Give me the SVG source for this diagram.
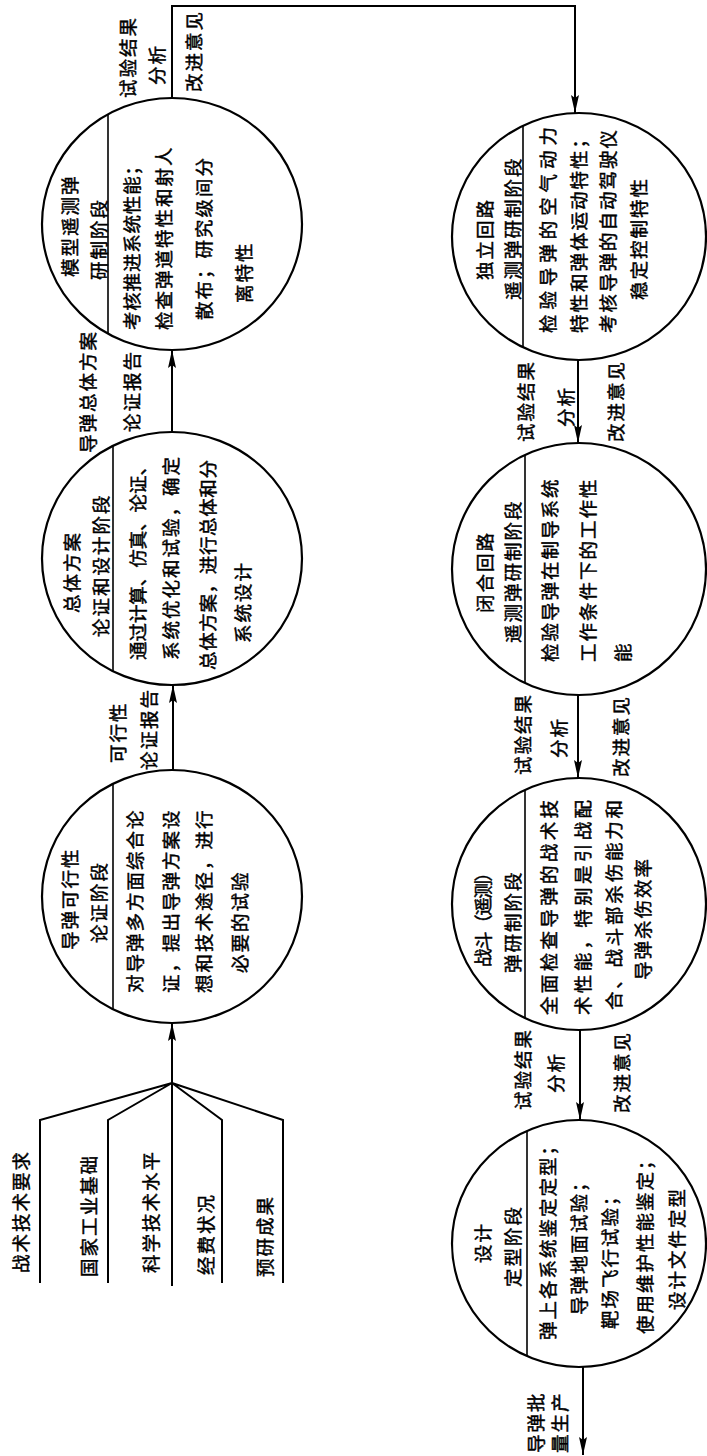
<svg xmlns="http://www.w3.org/2000/svg" width="707" height="1456" viewBox="0 0 707 1456">
<style>
.bg{fill:#ffffff}
.c{fill:none;stroke:#000;stroke-width:2.2}
.d{fill:none;stroke:#000;stroke-width:1.6}
.ln{fill:none;stroke:#000;stroke-width:2}
.t{font-family:"Noto Sans CJK SC","Noto Sans",sans-serif;font-size:18.5px;letter-spacing:2px;fill:#000;stroke:#000;stroke-width:0.45;dominant-baseline:central}
</style>
<defs>
<marker id="ah" viewBox="0 0 18 8" refX="18" refY="4" markerWidth="18" markerHeight="8" markerUnits="userSpaceOnUse" orient="auto">
<path d="M0,0 L18,4 L0,8 L3,4 z" fill="#000"/>
</marker>
</defs>
<rect class="bg" x="0" y="0" width="707" height="1456"/>
<g transform="matrix(0 -1 1 0 0 1456)">
<g id="inputs">
<path class="ln" d="M173,40 L336,40 L373,172 M173,108 L336,108 L373,172 M170,172 L373,172 M173,222 L336,222 L373,172 M173,283 L336,283 L373,172"/>
<text class="t" x="183" y="20">战术技术要求</text>
<text class="t" x="179" y="88">国家工业基础</text>
<text class="t" x="183" y="150">科学技术水平</text>
<text class="t" x="181" y="205">经费状况</text>
<text class="t" x="179" y="264">预研成果</text>
</g>
<g id="connectors">
<line class="ln" x1="373" y1="172" x2="433" y2="172" marker-end="url(#ah)"/>
<line class="ln" x1="686" y1="173" x2="771" y2="173" marker-end="url(#ah)"/>
<line class="ln" x1="1024" y1="172" x2="1106" y2="172" marker-end="url(#ah)"/>
<path class="ln" d="M1358,172 L1450,172 L1450,575 L1343,575" marker-end="url(#ah)"/>
<line class="ln" x1="1096" y1="578" x2="1013" y2="578" marker-end="url(#ah)"/>
<line class="ln" x1="761" y1="578" x2="678" y2="578" marker-end="url(#ah)"/>
<line class="ln" x1="426" y1="580" x2="336" y2="580" marker-end="url(#ah)"/>
<line class="ln" x1="89" y1="583" x2="1" y2="583" marker-end="url(#ah)"/>
<text class="t" x="693" y="117">可行性</text>
<text class="t" x="686" y="148">论证报告</text>
<text class="t" x="1003" y="87">导弹总体方案</text>
<text class="t" x="1024" y="131">论证报告</text>
<text class="t" x="1358" y="127">试验结果</text>
<text class="t" x="1371" y="156">分析</text>
<text class="t" x="1364" y="193">改进意见</text>
<text class="t" x="1014" y="525">试验结果</text>
<text class="t" x="1029" y="565">分析</text>
<text class="t" x="1014" y="615">改进意见</text>
<text class="t" x="681" y="522">试验结果</text>
<text class="t" x="698" y="558">分析</text>
<text class="t" x="679" y="620">改进意见</text>
<text class="t" x="346" y="522">试验结果</text>
<text class="t" x="363" y="555">分析</text>
<text class="t" x="343" y="621">改进意见</text>
<text class="t" x="3" y="535">导弹批</text>
<text class="t" x="3" y="559">量生产</text>
</g>
<g id="n1">
<ellipse class="c" cx="559.5" cy="172" rx="126.5" ry="130"/>
<line class="d" x1="446.8" y1="113" x2="672.2" y2="113"/>
<text class="t" x="506" y="69">导弹可行性</text>
<text class="t" x="513" y="98">论证阶段</text>
<text class="t" x="463" y="134">对导弹多方面综合论</text>
<text class="t" x="463" y="170">证，提出导弹方案设</text>
<text class="t" x="463" y="203">想和技术途径，进行</text>
<text class="t" x="483" y="239">必要的试验</text>
</g>
<g id="n2">
<ellipse class="c" cx="897.5" cy="172" rx="126.5" ry="130"/>
<line class="d" x1="784.8" y1="113" x2="1010.2" y2="113"/>
<text class="t" x="843" y="71">总体方案</text>
<text class="t" x="819" y="100">论证和设计阶段</text>
<text class="t" x="796" y="137" textLength="205" lengthAdjust="spacing">通过计算、仿真、论证、</text>
<text class="t" x="796" y="170">系统优化和试验，确定</text>
<text class="t" x="786" y="207" textLength="212" lengthAdjust="spacing">总体方案，进行总体和分</text>
<text class="t" x="813" y="242">系统设计</text>
</g>
<g id="n3">
<ellipse class="c" cx="1232" cy="172" rx="126" ry="130"/>
<line class="d" x1="1122.3" y1="108" x2="1341.7" y2="108"/>
<text class="t" x="1179" y="69">模型遥测弹</text>
<text class="t" x="1176" y="98">研制阶段</text>
<text class="t" x="1126" y="131" textLength="175" lengthAdjust="spacing">考核推进系统性能；</text>
<text class="t" x="1126" y="163">检查弹道特性和射人</text>
<text class="t" x="1136" y="203">散布；研究级间分</text>
<text class="t" x="1153" y="243">离特性</text>
</g>
<g id="n4">
<ellipse class="c" cx="1219.5" cy="579" rx="123.5" ry="127"/>
<line class="d" x1="1108.7" y1="523" x2="1330.3" y2="523"/>
<text class="t" x="1176" y="484">独立回路</text>
<text class="t" x="1156" y="512">遥测弹研制阶段</text>
<text class="t" x="1123" y="547" textLength="208" lengthAdjust="spacing">检验导弹的空气动力</text>
<text class="t" x="1123" y="578">特性和弹体运动特性；</text>
<text class="t" x="1123" y="607">考核导弹的自动驾驶仪</text>
<text class="t" x="1156" y="638">稳定控制特性</text>
</g>
<g id="n5">
<ellipse class="c" cx="887" cy="579" rx="126" ry="127"/>
<line class="d" x1="773" y1="525" x2="1001" y2="525"/>
<text class="t" x="843" y="484">闭合回路</text>
<text class="t" x="813" y="512">遥测弹研制阶段</text>
<text class="t" x="794" y="549">检验导弹在制导系统</text>
<text class="t" x="794" y="587">工作条件下的工作性</text>
<text class="t" x="794" y="622">能</text>
</g>
<g id="n6">
<ellipse class="c" cx="552" cy="579" rx="126" ry="127"/>
<line class="d" x1="438" y1="525" x2="666" y2="525"/>
<text class="t" x="489" y="482" textLength="106" lengthAdjust="spacing">战斗（遥测）</text>
<text class="t" x="483" y="512">弹研制阶段</text>
<text class="t" x="441" y="548" textLength="217" lengthAdjust="spacing">全面检查导弹的战术技</text>
<text class="t" x="441" y="582" textLength="217" lengthAdjust="spacing">术性能，特别是引战配</text>
<text class="t" x="446" y="613" textLength="212" lengthAdjust="spacing">合、战斗部杀伤能力和</text>
<text class="t" x="476" y="642">导弹杀伤效率</text>
</g>
<g id="n7">
<ellipse class="c" cx="212.5" cy="579" rx="123.5" ry="127"/>
<line class="d" x1="99.8" y1="527" x2="325.2" y2="527"/>
<text class="t" x="193" y="482">设计</text>
<text class="t" x="169" y="512">定型阶段</text>
<text class="t" x="116" y="547">弹上各系统鉴定定型；</text>
<text class="t" x="141" y="578">导弹地面试验；</text>
<text class="t" x="127" y="609">靶场飞行试验；</text>
<text class="t" x="122" y="644">使用维护性能鉴定；</text>
<text class="t" x="146" y="676">设计文件定型</text>
</g>
</g>
</svg>
